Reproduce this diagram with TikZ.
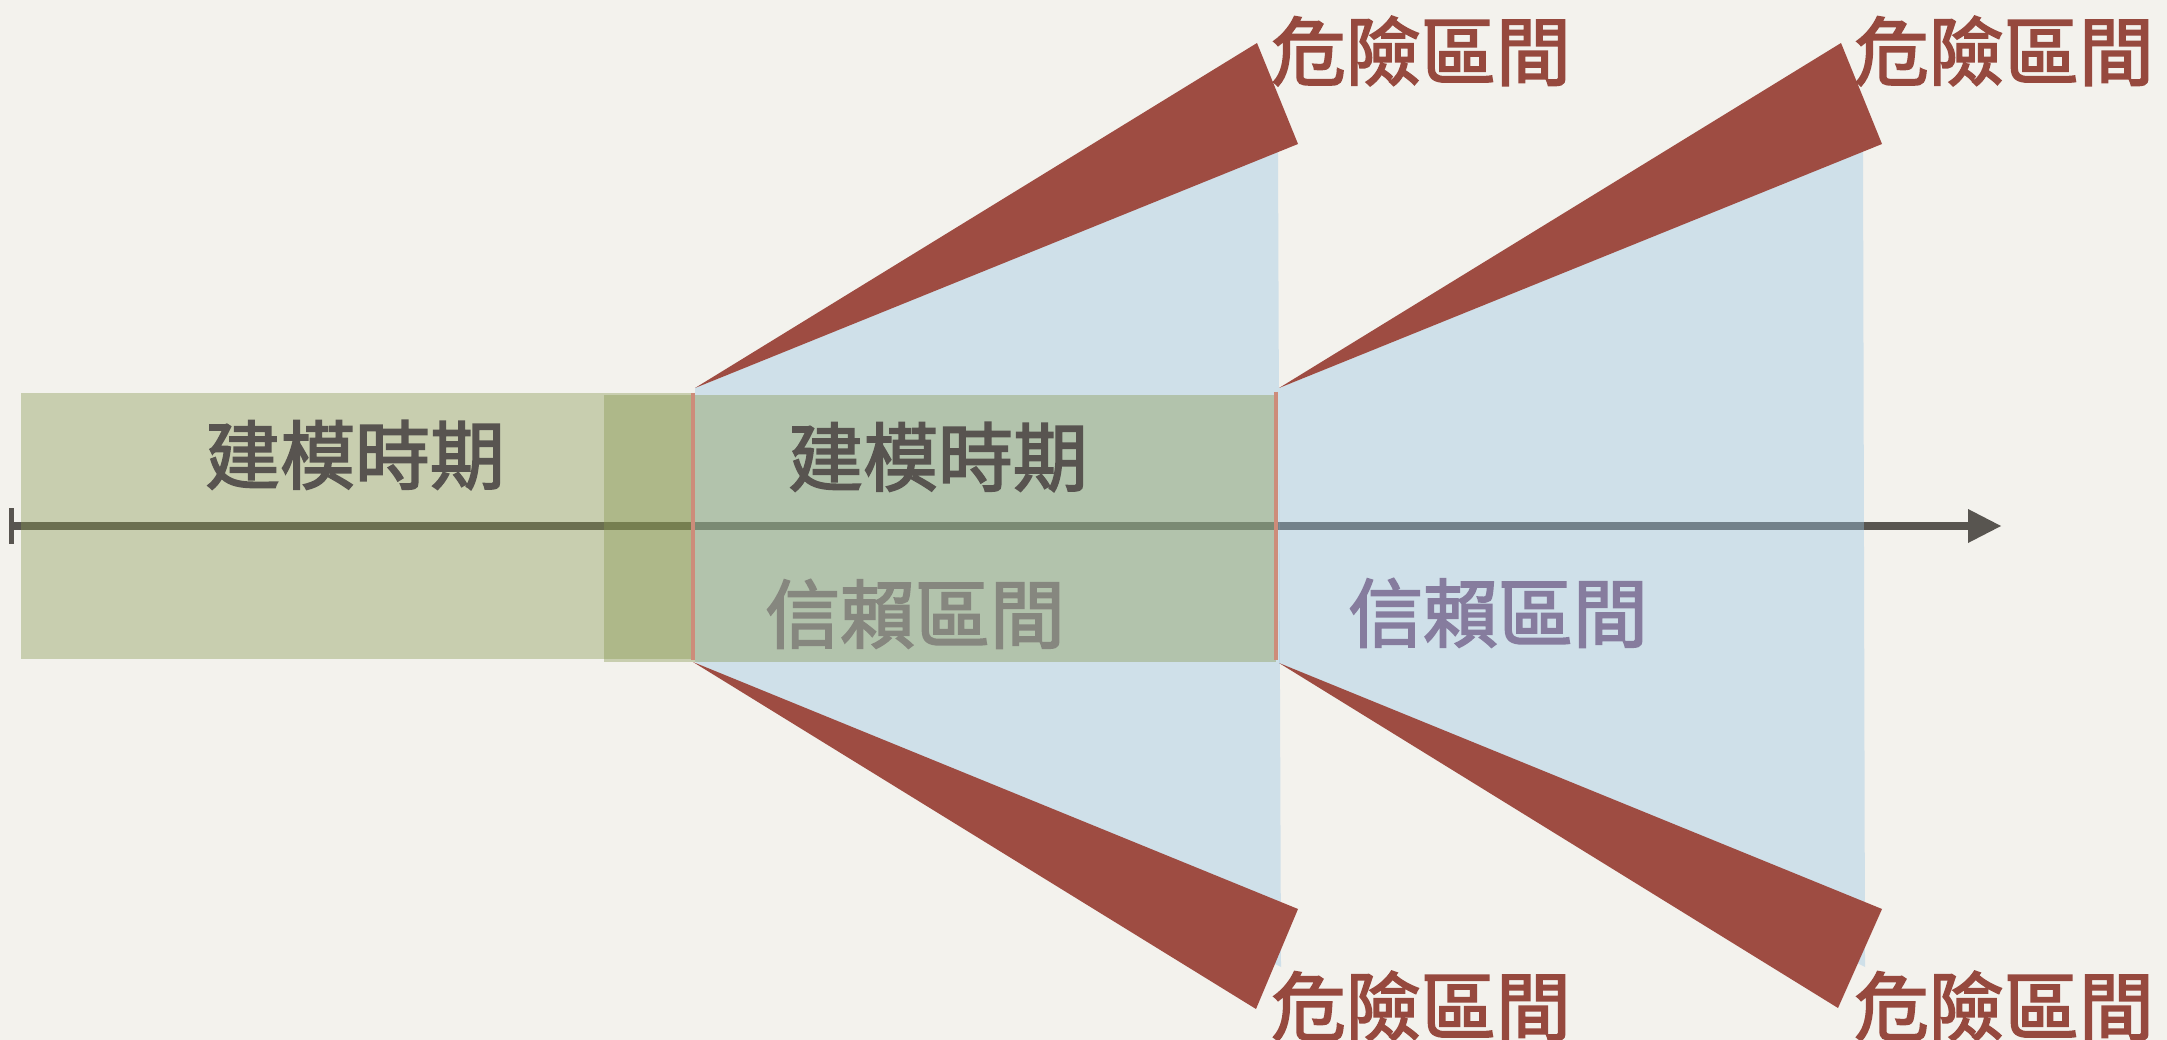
\documentclass[tikz,border=0pt]{standalone}
\usepackage{fontspec}
\newfontfamily\cjk{Noto Sans CJK TC}[FakeBold=2.3]
\definecolor{paper}{RGB}{243,242,237}
\definecolor{axisgrey}{RGB}{88,85,80}
\definecolor{fanblue}{RGB}{155,197,227}
\definecolor{modelgreen}{RGB}{136,152,82}
\definecolor{riskred}{RGB}{158,76,66}
\definecolor{risktext}{RGB}{150,73,62}
\definecolor{ciPurple}{RGB}{134,124,158}
\definecolor{modeltext}{RGB}{88,84,80}
\definecolor{edgesalmon}{RGB}{205,140,122}
\tikzset{
  lbl/.style={inner sep=0pt, font=\cjk\fontsize{21.3pt}{22pt}\selectfont},
  modellbl/.style={lbl, text=modeltext},
  cilbl/.style={lbl, text=ciPurple},
  risklbl/.style={lbl, text=risktext},
  fanfill/.style={fill=fanblue, fill opacity=0.4},
  modelfill/.style={fill=modelgreen, fill opacity=0.4},
  wedge/.style={fill=riskred},
  edgeline/.style={draw=edgesalmon, line width=1.1pt},
}
\begin{document}
\begin{tikzpicture}[x=0.01cm, y=-0.01cm]
\useasboundingbox (0,0) rectangle (2167,1040);
\fill[paper] (0,0) rectangle (2167,1040);
% axis
\coordinate (axstart) at (12,526);
\coordinate (axend) at (1970,526);
\coordinate (axtip) at (2001,526);
\draw[axisgrey, line width=2.4pt] (axstart) -- (axend);
\fill[axisgrey] (1968,509) -- (axtip) -- (1968,543) -- cycle;
\draw[axisgrey, line width=1.6pt] (11.5,508) -- (11.5,544);
% blue fans
\fill[fanfill] (695,388) -- (1278,151) -- (1281,967) -- (695,662) -- cycle;
\fill[fanfill] (1279,388) -- (1863,151) -- (1865,967) -- (1279,663) -- cycle;
% confidence interval labels
\node[cilbl] (ci1) at (915,614) {信賴區間};
\node[cilbl] (ci2) at (1498,613) {信賴區間};
% modelling period boxes
\fill[modelfill] (21,393) rectangle (692,659);
\fill[modelfill] (604,395) rectangle (1276,662);
\draw[edgeline] (693,393) -- (693,660);
\draw[edgeline] (1276,392) -- (1276,660);
\node[modellbl] (m1) at (355,455) {建模時期};
\node[modellbl] (m2) at (938,457) {建模時期};
% risk wedges
\fill[wedge] (695,388) -- (1257,43) -- (1298,144) -- cycle;
\fill[wedge] (693,662) -- (1298,909) -- (1256,1009) -- cycle;
\fill[wedge] (1279,388) -- (1841,43) -- (1882,144) -- cycle;
\fill[wedge] (1279,663) -- (1882,909) -- (1838,1008) -- cycle;
% risk labels
\node[risklbl] (r1) at (1421,51) {危險區間};
\node[risklbl] (r2) at (2004,51) {危險區間};
\node[risklbl] (r3) at (1421,1006) {危險區間};
\node[risklbl] (r4) at (2004,1006) {危險區間};
\end{tikzpicture}
\end{document}
